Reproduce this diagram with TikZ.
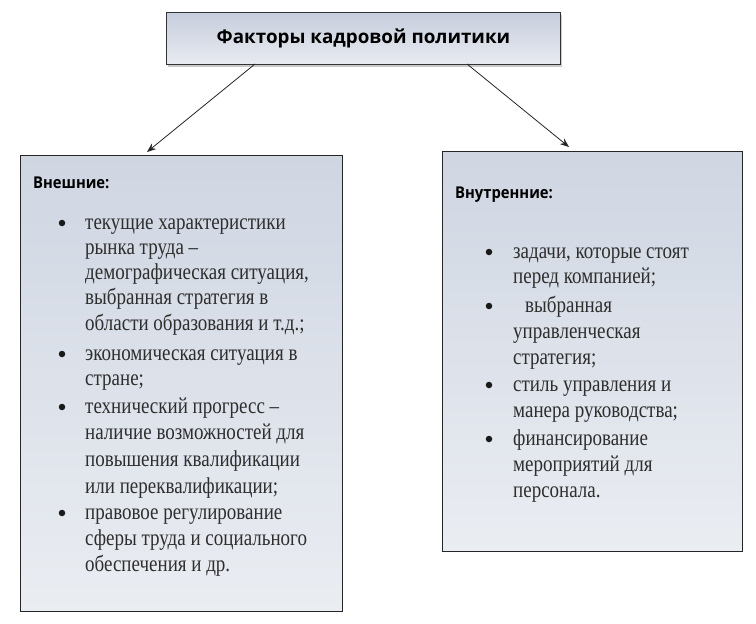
\documentclass[tikz,border=0pt]{standalone}
\usepackage{fontspec}
\usepackage{graphicx}
\setmainfont{Liberation Serif}
\newfontfamily\headfont{Open Sans}
\usetikzlibrary{shadows,arrows.meta}
\definecolor{boxtop}{HTML}{C6CDDC}
\definecolor{boxbot}{HTML}{E8EBF1}
\definecolor{bigtop}{HTML}{CFD6E2}
\definecolor{bigbot}{HTML}{EAEDF2}
\definecolor{bodytxt}{HTML}{2E2E2E}
\newcommand{\tallx}[2]{\scalebox{1}[#1]{#2}}
\tikzset{
  titlebox/.style={draw=black!80, line width=0.9pt, top color=boxtop, bottom color=boxbot,
    drop shadow={shadow xshift=2pt, shadow yshift=-3pt, opacity=0.35, fill=black!60},
    font=\headfont\bfseries\fontsize{18.8}{22}\selectfont, inner sep=0pt},
  bigbox/.style={draw=black!85, line width=0.9pt, top color=bigtop, bottom color=bigbot, inner sep=0pt},
  head/.style={font=\headfont\bfseries\fontsize{14.8}{17}\selectfont, anchor=base west, inner sep=0pt},
  txt/.style={font=\fontsize{19}{26}\selectfont, anchor=base west, inner sep=0pt, text=bodytxt},
  bul/.style={circle, fill=black!90, minimum size=6.5pt, inner sep=0pt},
  conn/.style={draw=black!85, line width=0.8pt, -{Stealth[length=9pt,width=7pt]}}
}
\begin{document}
\begin{tikzpicture}[x=1pt,y=-1pt]
\useasboundingbox (0,0) rectangle (756,624);
\node[titlebox, minimum width=394pt, minimum height=52pt, anchor=north west] (title) at (166,12) {Факторы кадровой политики};
\node[bigbox, minimum width=322pt, minimum height=456pt, anchor=north west] (ext) at (20,155) {};
\node[bigbox, minimum width=300pt, minimum height=400pt, anchor=north west] (int) at (442,151) {};
\coordinate (tl) at (255,64);
\coordinate (tr) at (467,64);
\coordinate (el) at (147,152);
\coordinate (er) at (569,147);
\draw[conn] (tl) -- (el);
\draw[conn] (tr) -- (er);

\node[head] (h1) at (33,188) {\tallx{1.1}{Внешние:}};
\node[head] (h2) at (455,198) {\tallx{1.1}{Внутренние:}};

\foreach \y/\t [count=\i] in {
  229/{текущие характеристики},
  254/{рынка труда –},
  279/{демографическая ситуация,},
  304/{выбранная стратегия в},
  330/{области образования и т.д.;},
  360/{экономическая ситуация в},
  385/{стране;},
  413/{технический прогресс –},
  439/{наличие возможностей для},
  466/{повышения квалификации},
  493/{или переквалификации;},
  519/{правовое регулирование},
  545/{сферы труда и социального},
  571/{обеспечения и др.}}
  \node[txt] (e\i) at (85,\y) {\tallx{1.2}{\t}};
\foreach \y [count=\i] in {229,360,413,519}
  \node[bul] (eb\i) at (62,\y-6) {};

\foreach \y/\t [count=\i] in {
  258/{задачи, которые стоят},
  283/{перед компанией;},
  312/{\hspace{12pt}выбранная},
  338/{управленческая},
  364/{стратегия;},
  391/{стиль управления и},
  417/{манера руководства;},
  445/{финансирование},
  471/{мероприятий для},
  497/{персонала.}}
  \node[txt] (i\i) at (513,\y) {\tallx{1.2}{\t}};
\foreach \y [count=\i] in {258,312,391,445}
  \node[bul] (ib\i) at (489,\y-6) {};
\end{tikzpicture}
\end{document}
